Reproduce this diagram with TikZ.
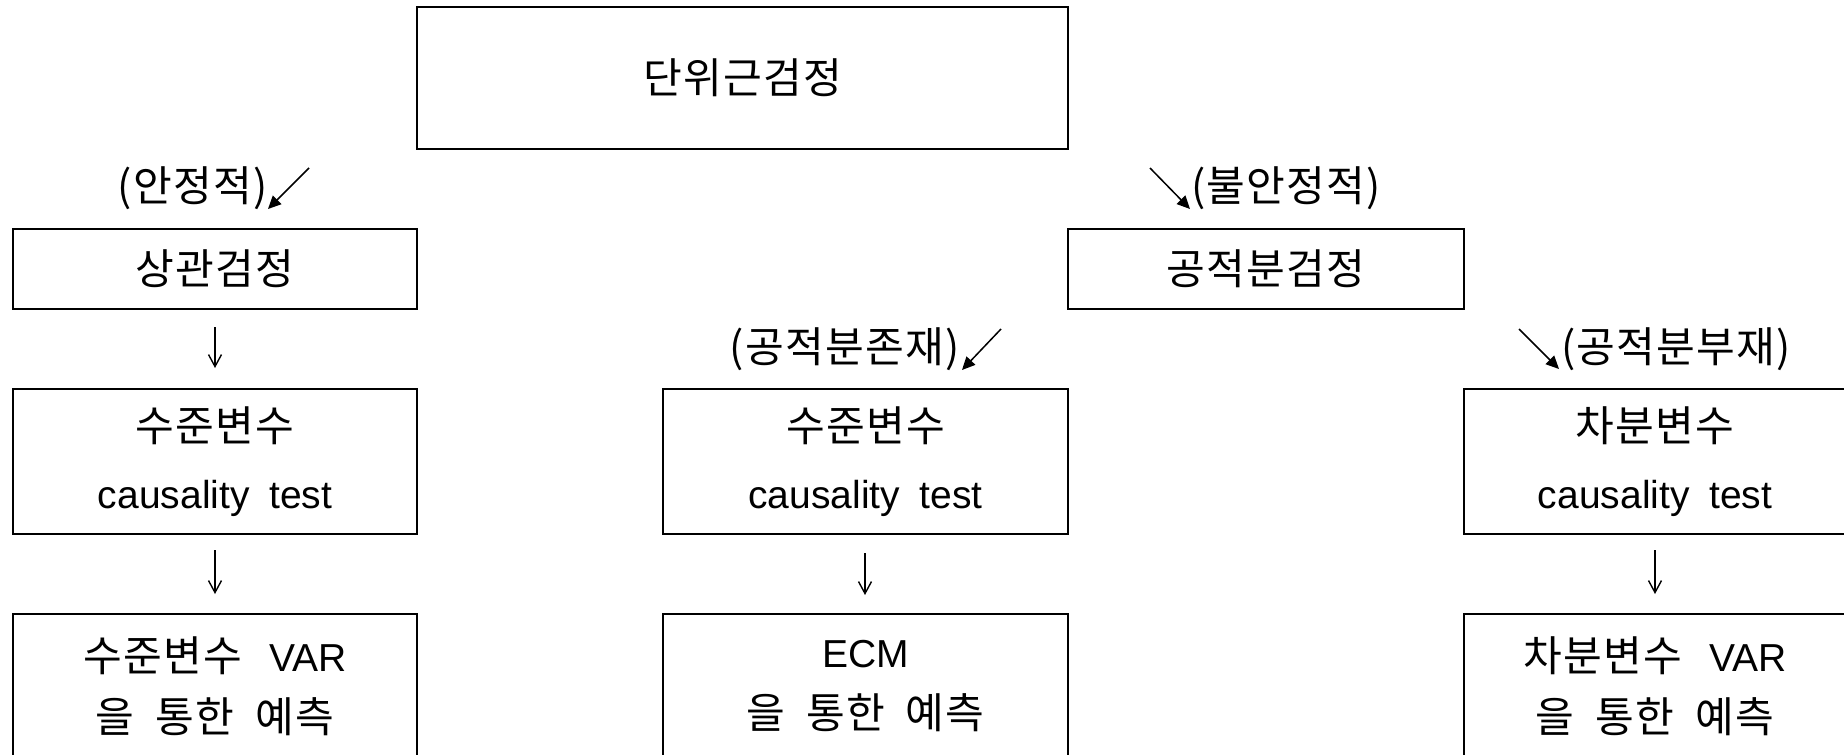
\documentclass[tikz,border=0pt]{standalone}
\usepackage{fontspec}
\setmainfont{Liberation Sans}
\newfontfamily\kr[LetterSpace=3, Scale=1.08]{Noto Sans CJK KR}
\usetikzlibrary{arrows.meta}
\tikzset{
  box/.style={draw=black, line width=1.2pt, inner sep=0pt, align=center, fill=none},
  lbl/.style={inner sep=0pt, font=\kr\fontsize{19.5}{24}\selectfont},
  diagarrow/.style={line width=0.75pt, -{Triangle[length=6.5pt,width=6pt]}},
  downarrow/.style={line width=0.7pt, -{Straight Barb[length=6pt,width=6.5pt]}},
  txt/.style={font=\fontsize{19.5}{33.5}\selectfont},
  txtb/.style={font=\fontsize{19.5}{30.5}\selectfont}
}
\begin{document}
\begin{tikzpicture}[x=0.5pt, y=-0.5pt]
\clip (0,0) rectangle (1844,755);
\fill[white] (0,0) rectangle (1844,755);
% boxes
\node[box, txt, minimum width=325.5pt, minimum height=71pt] (top) at (742.5,78) {{\kr 단위근검정}};
\node[box, txt, minimum width=202pt, minimum height=40pt] (b1) at (215,269) {{\kr 상관검정}};
\node[box, txt, minimum width=198pt, minimum height=40pt] (b2) at (1266,269) {{\kr 공적분검정}};
\node[box, txt, minimum width=202pt, minimum height=72.5pt] (c1) at (215,461.5) {{\kr 수준변수}\\causality\hspace{0.5em}test};
\node[box, txt, minimum width=202.5pt, minimum height=72.5pt] (c2) at (865.5,461.5) {{\kr 수준변수}\\causality\hspace{0.5em}test};
\node[box, txt, minimum width=191pt, minimum height=72.5pt] (c3) at (1655,461.5) {{\kr 차분변수}\\causality\hspace{0.5em}test};
\node[box, txtb, minimum width=202pt, minimum height=72.5pt] (d1) at (215,686.5) {{\kr 수준변수}\hspace{0.7em}VAR\\{\kr 을\hspace{0.5em}통한\hspace{0.5em}예측}};
\node[box, txtb, minimum width=202.5pt, minimum height=72.5pt] (d2) at (865.5,686.5) {ECM\\{\kr 을\hspace{0.5em}통한\hspace{0.5em}예측}};
\node[box, txtb, minimum width=191pt, minimum height=72.5pt] (d3) at (1655,686.5) {{\kr 차분변수}\hspace{0.7em}VAR\\{\kr 을\hspace{0.5em}통한\hspace{0.5em}예측}};
% labels
\node[lbl, anchor=east] (l1) at (268,188) {(안정적)};
\node[lbl, anchor=west] (l2) at (1191,188) {(불안정적)};
\node[lbl, anchor=east] (l3) at (960,349) {(공적분존재)};
\node[lbl, anchor=west] (l4) at (1561,349) {(공적분부재)};
% arrow coordinates
\coordinate (a1s) at (309,168); \coordinate (a1e) at (268,209);
\coordinate (a2s) at (1150,168); \coordinate (a2e) at (1190,209);
\coordinate (a3s) at (1001,329); \coordinate (a3e) at (962,370);
\coordinate (a4s) at (1519,329); \coordinate (a4e) at (1559,369);
\coordinate (v1s) at (215,327); \coordinate (v1e) at (215,368);
\coordinate (v2s) at (215,550); \coordinate (v2e) at (215,594);
\coordinate (v3s) at (865,553); \coordinate (v3e) at (865,595);
\coordinate (v4s) at (1655,550); \coordinate (v4e) at (1655,594);
\draw[diagarrow] (a1s) -- (a1e);
\draw[diagarrow] (a2s) -- (a2e);
\draw[diagarrow] (a3s) -- (a3e);
\draw[diagarrow] (a4s) -- (a4e);
\draw[downarrow] (v1s) -- (v1e);
\draw[downarrow] (v2s) -- (v2e);
\draw[downarrow] (v3s) -- (v3e);
\draw[downarrow] (v4s) -- (v4e);
\end{tikzpicture}
\end{document}
